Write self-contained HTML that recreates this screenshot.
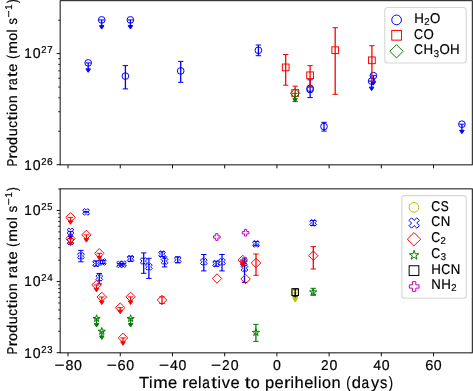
<!DOCTYPE html><html><head><meta charset="utf-8"><style>html,body{margin:0;padding:0;background:#fff;overflow:hidden}svg{display:block;will-change:transform}</style></head><body><svg text-rendering="geometricPrecision" width="473" height="391" viewBox="0 0 473 391">
<g>
<rect width="473" height="391" fill="#fff"/>
<defs><clipPath id="ct"><rect x="60.15" y="0.7" width="412.15000000000003" height="164.15"/></clipPath><clipPath id="cb"><rect x="60.15" y="188.85" width="412.15000000000003" height="164.00000000000003"/></clipPath></defs>
<g clip-path="url(#ct)"><line x1="88.20" y1="62.90" x2="88.20" y2="68.85" stroke="#0000ff" stroke-width="1.3"/><line x1="85.50" y1="62.90" x2="90.90" y2="62.90" stroke="#0000ff" stroke-width="1.0"/><path d="M85.90,68.85L88.20,72.30L90.50,68.85Z" fill="#0000ff" stroke="#0000ff" stroke-width="1.0" stroke-linejoin="miter"/><circle cx="88.20" cy="62.90" r="3.35" fill="none" stroke="#0000ff" stroke-width="1.0"/><line x1="101.70" y1="19.90" x2="101.70" y2="25.65" stroke="#0000ff" stroke-width="1.3"/><line x1="99.00" y1="19.90" x2="104.40" y2="19.90" stroke="#0000ff" stroke-width="1.0"/><path d="M99.40,25.65L101.70,29.10L104.00,25.65Z" fill="#0000ff" stroke="#0000ff" stroke-width="1.0" stroke-linejoin="miter"/><circle cx="101.70" cy="19.90" r="3.35" fill="none" stroke="#0000ff" stroke-width="1.0"/><line x1="130.40" y1="19.90" x2="130.40" y2="25.55" stroke="#0000ff" stroke-width="1.3"/><line x1="127.70" y1="19.90" x2="133.10" y2="19.90" stroke="#0000ff" stroke-width="1.0"/><path d="M128.10,25.55L130.40,29.00L132.70,25.55Z" fill="#0000ff" stroke="#0000ff" stroke-width="1.0" stroke-linejoin="miter"/><circle cx="130.40" cy="19.90" r="3.35" fill="none" stroke="#0000ff" stroke-width="1.0"/><line x1="125.40" y1="65.60" x2="125.40" y2="88.90" stroke="#0000ff" stroke-width="1.3"/><line x1="122.70" y1="65.60" x2="128.10" y2="65.60" stroke="#0000ff" stroke-width="1.0"/><line x1="122.70" y1="88.90" x2="128.10" y2="88.90" stroke="#0000ff" stroke-width="1.0"/><circle cx="125.40" cy="76.10" r="3.35" fill="none" stroke="#0000ff" stroke-width="1.0"/><line x1="180.70" y1="61.40" x2="180.70" y2="82.30" stroke="#0000ff" stroke-width="1.3"/><line x1="178.00" y1="61.40" x2="183.40" y2="61.40" stroke="#0000ff" stroke-width="1.0"/><line x1="178.00" y1="82.30" x2="183.40" y2="82.30" stroke="#0000ff" stroke-width="1.0"/><circle cx="180.70" cy="70.90" r="3.35" fill="none" stroke="#0000ff" stroke-width="1.0"/><line x1="258.40" y1="45.00" x2="258.40" y2="55.70" stroke="#0000ff" stroke-width="1.3"/><line x1="255.70" y1="45.00" x2="261.10" y2="45.00" stroke="#0000ff" stroke-width="1.0"/><line x1="255.70" y1="55.70" x2="261.10" y2="55.70" stroke="#0000ff" stroke-width="1.0"/><circle cx="258.40" cy="50.30" r="3.35" fill="none" stroke="#0000ff" stroke-width="1.0"/><line x1="310.10" y1="79.80" x2="310.10" y2="97.60" stroke="#0000ff" stroke-width="1.3"/><line x1="307.40" y1="79.80" x2="312.80" y2="79.80" stroke="#0000ff" stroke-width="1.0"/><line x1="307.40" y1="97.60" x2="312.80" y2="97.60" stroke="#0000ff" stroke-width="1.0"/><circle cx="310.10" cy="88.30" r="3.35" fill="none" stroke="#0000ff" stroke-width="1.0"/><circle cx="310.10" cy="89.60" r="3.35" fill="none" stroke="#0000ff" stroke-width="1.0"/><line x1="324.00" y1="122.30" x2="324.00" y2="131.10" stroke="#0000ff" stroke-width="1.3"/><line x1="321.30" y1="122.30" x2="326.70" y2="122.30" stroke="#0000ff" stroke-width="1.0"/><line x1="321.30" y1="131.10" x2="326.70" y2="131.10" stroke="#0000ff" stroke-width="1.0"/><circle cx="324.00" cy="126.50" r="3.35" fill="none" stroke="#0000ff" stroke-width="1.0"/><line x1="373.40" y1="75.70" x2="373.40" y2="81.65" stroke="#0000ff" stroke-width="1.3"/><line x1="370.70" y1="75.70" x2="376.10" y2="75.70" stroke="#0000ff" stroke-width="1.0"/><path d="M371.10,81.65L373.40,85.10L375.70,81.65Z" fill="#0000ff" stroke="#0000ff" stroke-width="1.0" stroke-linejoin="miter"/><circle cx="373.40" cy="75.70" r="3.35" fill="none" stroke="#0000ff" stroke-width="1.0"/><line x1="371.60" y1="81.10" x2="371.60" y2="87.15" stroke="#0000ff" stroke-width="1.3"/><line x1="368.90" y1="81.10" x2="374.30" y2="81.10" stroke="#0000ff" stroke-width="1.0"/><path d="M369.30,87.15L371.60,90.60L373.90,87.15Z" fill="#0000ff" stroke="#0000ff" stroke-width="1.0" stroke-linejoin="miter"/><circle cx="371.60" cy="81.10" r="3.35" fill="none" stroke="#0000ff" stroke-width="1.0"/><line x1="461.90" y1="124.20" x2="461.90" y2="130.25" stroke="#0000ff" stroke-width="1.3"/><line x1="459.20" y1="124.20" x2="464.60" y2="124.20" stroke="#0000ff" stroke-width="1.0"/><path d="M459.60,130.25L461.90,133.70L464.20,130.25Z" fill="#0000ff" stroke="#0000ff" stroke-width="1.0" stroke-linejoin="miter"/><circle cx="461.90" cy="124.20" r="3.35" fill="none" stroke="#0000ff" stroke-width="1.0"/><line x1="285.70" y1="54.50" x2="285.70" y2="85.20" stroke="#ff0000" stroke-width="1.3"/><line x1="283.00" y1="54.50" x2="288.40" y2="54.50" stroke="#ff0000" stroke-width="1.0"/><line x1="283.00" y1="85.20" x2="288.40" y2="85.20" stroke="#ff0000" stroke-width="1.0"/><rect x="282.35" y="64.05" width="6.70" height="6.70" fill="none" stroke="#ff0000" stroke-width="1.0"/><line x1="295.20" y1="86.20" x2="295.20" y2="101.60" stroke="#ff0000" stroke-width="1.3"/><line x1="292.50" y1="86.20" x2="297.90" y2="86.20" stroke="#ff0000" stroke-width="1.0"/><line x1="292.50" y1="101.60" x2="297.90" y2="101.60" stroke="#ff0000" stroke-width="1.0"/><rect x="291.85" y="89.65" width="6.70" height="6.70" fill="none" stroke="#ff0000" stroke-width="1.0"/><line x1="310.10" y1="65.60" x2="310.10" y2="87.20" stroke="#ff0000" stroke-width="1.3"/><line x1="307.40" y1="65.60" x2="312.80" y2="65.60" stroke="#ff0000" stroke-width="1.0"/><line x1="307.40" y1="87.20" x2="312.80" y2="87.20" stroke="#ff0000" stroke-width="1.0"/><rect x="306.75" y="71.95" width="6.70" height="6.70" fill="none" stroke="#ff0000" stroke-width="1.0"/><line x1="335.20" y1="27.70" x2="335.20" y2="94.30" stroke="#ff0000" stroke-width="1.3"/><line x1="332.50" y1="27.70" x2="337.90" y2="27.70" stroke="#ff0000" stroke-width="1.0"/><line x1="332.50" y1="94.30" x2="337.90" y2="94.30" stroke="#ff0000" stroke-width="1.0"/><rect x="331.85" y="46.85" width="6.70" height="6.70" fill="none" stroke="#ff0000" stroke-width="1.0"/><line x1="371.90" y1="45.70" x2="371.90" y2="81.30" stroke="#ff0000" stroke-width="1.3"/><line x1="369.20" y1="45.70" x2="374.60" y2="45.70" stroke="#ff0000" stroke-width="1.0"/><line x1="369.20" y1="81.30" x2="374.60" y2="81.30" stroke="#ff0000" stroke-width="1.0"/><rect x="368.55" y="56.95" width="6.70" height="6.70" fill="none" stroke="#ff0000" stroke-width="1.0"/><line x1="295.10" y1="93.30" x2="295.10" y2="98.65" stroke="#008000" stroke-width="1.3"/><line x1="292.40" y1="93.30" x2="297.80" y2="93.30" stroke="#008000" stroke-width="1.0"/><path d="M292.80,98.65L295.10,102.10L297.40,98.65Z" fill="#008000" stroke="#008000" stroke-width="1.0" stroke-linejoin="miter"/><path d="M295.10,88.56L299.84,93.30L295.10,98.04L290.36,93.30Z" fill="none" stroke="#008000" stroke-width="1.0" stroke-linejoin="miter"/></g>
<g clip-path="url(#cb)"><line x1="295.20" y1="292.90" x2="295.20" y2="298.45" stroke="#bfbf00" stroke-width="1.3"/><line x1="292.50" y1="292.90" x2="297.90" y2="292.90" stroke="#bfbf00" stroke-width="1.0"/><path d="M292.90,298.45L295.20,301.90L297.50,298.45Z" fill="#bfbf00" stroke="#bfbf00" stroke-width="1.0" stroke-linejoin="miter"/><circle cx="295.20" cy="292.90" r="3.35" fill="none" stroke="#bfbf00" stroke-width="1.0"/><line x1="70.50" y1="231.40" x2="70.50" y2="235.75" stroke="#0000ff" stroke-width="1.3"/><line x1="67.80" y1="231.40" x2="73.20" y2="231.40" stroke="#0000ff" stroke-width="1.0"/><path d="M68.20,235.75L70.50,239.20L72.80,235.75Z" fill="#0000ff" stroke="#0000ff" stroke-width="1.0" stroke-linejoin="miter"/><path d="M68.83,228.05L70.50,229.72L72.17,228.05L73.85,229.72L72.17,231.40L73.85,233.08L72.17,234.75L70.50,233.08L68.83,234.75L67.15,233.08L68.83,231.40L67.15,229.72Z" fill="none" stroke="#0000ff" stroke-width="1.0" stroke-linejoin="miter"/><path d="M68.83,238.15L70.50,239.82L72.17,238.15L73.85,239.82L72.17,241.50L73.85,243.18L72.17,244.85L70.50,243.18L68.83,244.85L67.15,243.18L68.83,241.50L67.15,239.82Z" fill="none" stroke="#0000ff" stroke-width="1.0" stroke-linejoin="miter"/><line x1="86.10" y1="211.60" x2="86.10" y2="212.20" stroke="#0000ff" stroke-width="1.3"/><line x1="83.40" y1="211.60" x2="88.80" y2="211.60" stroke="#0000ff" stroke-width="1.0"/><line x1="83.40" y1="212.20" x2="88.80" y2="212.20" stroke="#0000ff" stroke-width="1.0"/><path d="M84.42,208.55L86.10,210.22L87.77,208.55L89.45,210.22L87.77,211.90L89.45,213.58L87.77,215.25L86.10,213.58L84.42,215.25L82.75,213.58L84.42,211.90L82.75,210.22Z" fill="none" stroke="#0000ff" stroke-width="1.0" stroke-linejoin="miter"/><line x1="80.90" y1="250.40" x2="80.90" y2="261.80" stroke="#0000ff" stroke-width="1.3"/><line x1="78.20" y1="250.40" x2="83.60" y2="250.40" stroke="#0000ff" stroke-width="1.0"/><line x1="78.20" y1="261.80" x2="83.60" y2="261.80" stroke="#0000ff" stroke-width="1.0"/><path d="M79.23,252.55L80.90,254.22L82.58,252.55L84.25,254.22L82.58,255.90L84.25,257.57L82.58,259.25L80.90,257.57L79.23,259.25L77.55,257.57L79.23,255.90L77.55,254.22Z" fill="none" stroke="#0000ff" stroke-width="1.0" stroke-linejoin="miter"/><line x1="96.10" y1="261.00" x2="96.10" y2="266.00" stroke="#0000ff" stroke-width="1.3"/><line x1="93.40" y1="261.00" x2="98.80" y2="261.00" stroke="#0000ff" stroke-width="1.0"/><line x1="93.40" y1="266.00" x2="98.80" y2="266.00" stroke="#0000ff" stroke-width="1.0"/><path d="M94.42,260.15L96.10,261.82L97.77,260.15L99.45,261.82L97.77,263.50L99.45,265.18L97.77,266.85L96.10,265.18L94.42,266.85L92.75,265.18L94.42,263.50L92.75,261.82Z" fill="none" stroke="#0000ff" stroke-width="1.0" stroke-linejoin="miter"/><line x1="102.70" y1="260.50" x2="102.70" y2="263.50" stroke="#0000ff" stroke-width="1.3"/><line x1="100.00" y1="260.50" x2="105.40" y2="260.50" stroke="#0000ff" stroke-width="1.0"/><line x1="100.00" y1="263.50" x2="105.40" y2="263.50" stroke="#0000ff" stroke-width="1.0"/><path d="M101.03,258.65L102.70,260.32L104.38,258.65L106.05,260.32L104.38,262.00L106.05,263.68L104.38,265.35L102.70,263.68L101.03,265.35L99.35,263.68L101.03,262.00L99.35,260.32Z" fill="none" stroke="#0000ff" stroke-width="1.0" stroke-linejoin="miter"/><line x1="99.30" y1="273.50" x2="99.30" y2="283.90" stroke="#0000ff" stroke-width="1.3"/><line x1="96.60" y1="273.50" x2="102.00" y2="273.50" stroke="#0000ff" stroke-width="1.0"/><line x1="96.60" y1="283.90" x2="102.00" y2="283.90" stroke="#0000ff" stroke-width="1.0"/><path d="M97.62,274.45L99.30,276.12L100.97,274.45L102.65,276.12L100.97,277.80L102.65,279.48L100.97,281.15L99.30,279.48L97.62,281.15L95.95,279.48L97.62,277.80L95.95,276.12Z" fill="none" stroke="#0000ff" stroke-width="1.0" stroke-linejoin="miter"/><line x1="120.00" y1="263.60" x2="120.00" y2="265.20" stroke="#0000ff" stroke-width="1.3"/><line x1="117.30" y1="263.60" x2="122.70" y2="263.60" stroke="#0000ff" stroke-width="1.0"/><line x1="117.30" y1="265.20" x2="122.70" y2="265.20" stroke="#0000ff" stroke-width="1.0"/><path d="M118.33,261.05L120.00,262.72L121.67,261.05L123.35,262.72L121.67,264.40L123.35,266.07L121.67,267.75L120.00,266.07L118.33,267.75L116.65,266.07L118.33,264.40L116.65,262.72Z" fill="none" stroke="#0000ff" stroke-width="1.0" stroke-linejoin="miter"/><line x1="123.00" y1="263.40" x2="123.00" y2="265.00" stroke="#0000ff" stroke-width="1.3"/><line x1="120.30" y1="263.40" x2="125.70" y2="263.40" stroke="#0000ff" stroke-width="1.0"/><line x1="120.30" y1="265.00" x2="125.70" y2="265.00" stroke="#0000ff" stroke-width="1.0"/><path d="M121.33,260.85L123.00,262.52L124.67,260.85L126.35,262.52L124.67,264.20L126.35,265.88L124.67,267.55L123.00,265.88L121.33,267.55L119.65,265.88L121.33,264.20L119.65,262.52Z" fill="none" stroke="#0000ff" stroke-width="1.0" stroke-linejoin="miter"/><line x1="130.60" y1="256.20" x2="130.60" y2="261.20" stroke="#0000ff" stroke-width="1.3"/><line x1="127.90" y1="256.20" x2="133.30" y2="256.20" stroke="#0000ff" stroke-width="1.0"/><line x1="127.90" y1="261.20" x2="133.30" y2="261.20" stroke="#0000ff" stroke-width="1.0"/><path d="M128.92,255.35L130.60,257.02L132.28,255.35L133.95,257.02L132.28,258.70L133.95,260.38L132.28,262.05L130.60,260.38L128.92,262.05L127.25,260.38L128.92,258.70L127.25,257.02Z" fill="none" stroke="#0000ff" stroke-width="1.0" stroke-linejoin="miter"/><line x1="143.70" y1="252.90" x2="143.70" y2="273.30" stroke="#0000ff" stroke-width="1.3"/><line x1="141.00" y1="252.90" x2="146.40" y2="252.90" stroke="#0000ff" stroke-width="1.0"/><line x1="141.00" y1="273.30" x2="146.40" y2="273.30" stroke="#0000ff" stroke-width="1.0"/><path d="M142.02,257.65L143.70,259.32L145.38,257.65L147.05,259.32L145.38,261.00L147.05,262.68L145.38,264.35L143.70,262.68L142.02,264.35L140.35,262.68L142.02,261.00L140.35,259.32Z" fill="none" stroke="#0000ff" stroke-width="1.0" stroke-linejoin="miter"/><line x1="148.90" y1="258.30" x2="148.90" y2="278.40" stroke="#0000ff" stroke-width="1.3"/><line x1="146.20" y1="258.30" x2="151.60" y2="258.30" stroke="#0000ff" stroke-width="1.0"/><line x1="146.20" y1="278.40" x2="151.60" y2="278.40" stroke="#0000ff" stroke-width="1.0"/><path d="M147.22,263.45L148.90,265.12L150.58,263.45L152.25,265.12L150.58,266.80L152.25,268.48L150.58,270.15L148.90,268.48L147.22,270.15L145.55,268.48L147.22,266.80L145.55,265.12Z" fill="none" stroke="#0000ff" stroke-width="1.0" stroke-linejoin="miter"/><line x1="162.10" y1="251.80" x2="162.10" y2="256.40" stroke="#0000ff" stroke-width="1.3"/><line x1="159.40" y1="251.80" x2="164.80" y2="251.80" stroke="#0000ff" stroke-width="1.0"/><line x1="159.40" y1="256.40" x2="164.80" y2="256.40" stroke="#0000ff" stroke-width="1.0"/><path d="M160.42,250.75L162.10,252.42L163.78,250.75L165.45,252.42L163.78,254.10L165.45,255.78L163.78,257.45L162.10,255.78L160.42,257.45L158.75,255.78L160.42,254.10L158.75,252.42Z" fill="none" stroke="#0000ff" stroke-width="1.0" stroke-linejoin="miter"/><line x1="164.60" y1="256.90" x2="164.60" y2="266.90" stroke="#0000ff" stroke-width="1.3"/><line x1="161.90" y1="256.90" x2="167.30" y2="256.90" stroke="#0000ff" stroke-width="1.0"/><line x1="161.90" y1="266.90" x2="167.30" y2="266.90" stroke="#0000ff" stroke-width="1.0"/><path d="M162.92,257.75L164.60,259.43L166.28,257.75L167.95,259.43L166.28,261.10L167.95,262.78L166.28,264.45L164.60,262.78L162.92,264.45L161.25,262.78L162.92,261.10L161.25,259.43Z" fill="none" stroke="#0000ff" stroke-width="1.0" stroke-linejoin="miter"/><line x1="177.70" y1="256.80" x2="177.70" y2="262.80" stroke="#0000ff" stroke-width="1.3"/><line x1="175.00" y1="256.80" x2="180.40" y2="256.80" stroke="#0000ff" stroke-width="1.0"/><line x1="175.00" y1="262.80" x2="180.40" y2="262.80" stroke="#0000ff" stroke-width="1.0"/><path d="M176.02,256.45L177.70,258.12L179.38,256.45L181.05,258.12L179.38,259.80L181.05,261.48L179.38,263.15L177.70,261.48L176.02,263.15L174.35,261.48L176.02,259.80L174.35,258.12Z" fill="none" stroke="#0000ff" stroke-width="1.0" stroke-linejoin="miter"/><line x1="203.80" y1="254.50" x2="203.80" y2="270.90" stroke="#0000ff" stroke-width="1.3"/><line x1="201.10" y1="254.50" x2="206.50" y2="254.50" stroke="#0000ff" stroke-width="1.0"/><line x1="201.10" y1="270.90" x2="206.50" y2="270.90" stroke="#0000ff" stroke-width="1.0"/><path d="M202.12,258.45L203.80,260.12L205.48,258.45L207.15,260.12L205.48,261.80L207.15,263.48L205.48,265.15L203.80,263.48L202.12,265.15L200.45,263.48L202.12,261.80L200.45,260.12Z" fill="none" stroke="#0000ff" stroke-width="1.0" stroke-linejoin="miter"/><line x1="216.10" y1="261.20" x2="216.10" y2="266.20" stroke="#0000ff" stroke-width="1.3"/><line x1="213.40" y1="261.20" x2="218.80" y2="261.20" stroke="#0000ff" stroke-width="1.0"/><line x1="213.40" y1="266.20" x2="218.80" y2="266.20" stroke="#0000ff" stroke-width="1.0"/><path d="M214.42,260.35L216.10,262.02L217.78,260.35L219.45,262.02L217.78,263.70L219.45,265.38L217.78,267.05L216.10,265.38L214.42,267.05L212.75,265.38L214.42,263.70L212.75,262.02Z" fill="none" stroke="#0000ff" stroke-width="1.0" stroke-linejoin="miter"/><line x1="222.00" y1="254.50" x2="222.00" y2="270.90" stroke="#0000ff" stroke-width="1.3"/><line x1="219.30" y1="254.50" x2="224.70" y2="254.50" stroke="#0000ff" stroke-width="1.0"/><line x1="219.30" y1="270.90" x2="224.70" y2="270.90" stroke="#0000ff" stroke-width="1.0"/><path d="M220.32,258.45L222.00,260.12L223.68,258.45L225.35,260.12L223.68,261.80L225.35,263.48L223.68,265.15L222.00,263.48L220.32,265.15L218.65,263.48L220.32,261.80L218.65,260.12Z" fill="none" stroke="#0000ff" stroke-width="1.0" stroke-linejoin="miter"/><line x1="243.80" y1="262.00" x2="243.80" y2="263.60" stroke="#0000ff" stroke-width="1.3"/><line x1="241.10" y1="262.00" x2="246.50" y2="262.00" stroke="#0000ff" stroke-width="1.0"/><line x1="241.10" y1="263.60" x2="246.50" y2="263.60" stroke="#0000ff" stroke-width="1.0"/><path d="M242.12,259.45L243.80,261.12L245.48,259.45L247.15,261.12L245.48,262.80L247.15,264.48L245.48,266.15L243.80,264.48L242.12,266.15L240.45,264.48L242.12,262.80L240.45,261.12Z" fill="none" stroke="#0000ff" stroke-width="1.0" stroke-linejoin="miter"/><line x1="244.50" y1="258.00" x2="244.50" y2="282.40" stroke="#0000ff" stroke-width="1.3"/><line x1="241.80" y1="258.00" x2="247.20" y2="258.00" stroke="#0000ff" stroke-width="1.0"/><line x1="241.80" y1="282.40" x2="247.20" y2="282.40" stroke="#0000ff" stroke-width="1.0"/><path d="M242.82,264.95L244.50,266.62L246.18,264.95L247.85,266.62L246.18,268.30L247.85,269.98L246.18,271.65L244.50,269.98L242.82,271.65L241.15,269.98L242.82,268.30L241.15,266.62Z" fill="none" stroke="#0000ff" stroke-width="1.0" stroke-linejoin="miter"/><line x1="256.00" y1="241.40" x2="256.00" y2="245.40" stroke="#0000ff" stroke-width="1.3"/><line x1="253.30" y1="241.40" x2="258.70" y2="241.40" stroke="#0000ff" stroke-width="1.0"/><line x1="253.30" y1="245.40" x2="258.70" y2="245.40" stroke="#0000ff" stroke-width="1.0"/><path d="M254.32,240.55L256.00,242.22L257.68,240.55L259.35,242.22L257.68,243.90L259.35,245.58L257.68,247.25L256.00,245.58L254.32,247.25L252.65,245.58L254.32,243.90L252.65,242.22Z" fill="none" stroke="#0000ff" stroke-width="1.0" stroke-linejoin="miter"/><line x1="313.20" y1="220.40" x2="313.20" y2="225.40" stroke="#0000ff" stroke-width="1.3"/><line x1="310.50" y1="220.40" x2="315.90" y2="220.40" stroke="#0000ff" stroke-width="1.0"/><line x1="310.50" y1="225.40" x2="315.90" y2="225.40" stroke="#0000ff" stroke-width="1.0"/><path d="M311.52,219.55L313.20,221.22L314.88,219.55L316.55,221.22L314.88,222.90L316.55,224.58L314.88,226.25L313.20,224.58L311.52,226.25L309.85,224.58L311.52,222.90L309.85,221.22Z" fill="none" stroke="#0000ff" stroke-width="1.0" stroke-linejoin="miter"/><line x1="70.50" y1="217.40" x2="70.50" y2="220.85" stroke="#ff0000" stroke-width="1.3"/><line x1="67.80" y1="217.40" x2="73.20" y2="217.40" stroke="#ff0000" stroke-width="1.0"/><path d="M68.20,220.85L70.50,224.30L72.80,220.85Z" fill="#ff0000" stroke="#ff0000" stroke-width="1.0" stroke-linejoin="miter"/><path d="M70.50,212.66L75.24,217.40L70.50,222.14L65.76,217.40Z" fill="none" stroke="#ff0000" stroke-width="1.0" stroke-linejoin="miter"/><line x1="70.50" y1="238.60" x2="70.50" y2="242.25" stroke="#ff0000" stroke-width="1.3"/><line x1="67.80" y1="238.60" x2="73.20" y2="238.60" stroke="#ff0000" stroke-width="1.0"/><path d="M68.20,242.25L70.50,245.70L72.80,242.25Z" fill="#ff0000" stroke="#ff0000" stroke-width="1.0" stroke-linejoin="miter"/><path d="M70.50,233.86L75.24,238.60L70.50,243.34L65.76,238.60Z" fill="none" stroke="#ff0000" stroke-width="1.0" stroke-linejoin="miter"/><line x1="86.40" y1="234.90" x2="86.40" y2="238.65" stroke="#ff0000" stroke-width="1.3"/><line x1="83.70" y1="234.90" x2="89.10" y2="234.90" stroke="#ff0000" stroke-width="1.0"/><path d="M84.10,238.65L86.40,242.10L88.70,238.65Z" fill="#ff0000" stroke="#ff0000" stroke-width="1.0" stroke-linejoin="miter"/><path d="M86.40,230.16L91.14,234.90L86.40,239.64L81.66,234.90Z" fill="none" stroke="#ff0000" stroke-width="1.0" stroke-linejoin="miter"/><line x1="99.30" y1="253.30" x2="99.30" y2="256.45" stroke="#ff0000" stroke-width="1.3"/><line x1="96.60" y1="253.30" x2="102.00" y2="253.30" stroke="#ff0000" stroke-width="1.0"/><path d="M97.00,256.45L99.30,259.90L101.60,256.45Z" fill="#ff0000" stroke="#ff0000" stroke-width="1.0" stroke-linejoin="miter"/><path d="M99.30,248.56L104.04,253.30L99.30,258.04L94.56,253.30Z" fill="none" stroke="#ff0000" stroke-width="1.0" stroke-linejoin="miter"/><line x1="96.50" y1="285.00" x2="96.50" y2="288.35" stroke="#ff0000" stroke-width="1.3"/><line x1="93.80" y1="285.00" x2="99.20" y2="285.00" stroke="#ff0000" stroke-width="1.0"/><path d="M94.20,288.35L96.50,291.80L98.80,288.35Z" fill="#ff0000" stroke="#ff0000" stroke-width="1.0" stroke-linejoin="miter"/><path d="M96.50,280.26L101.24,285.00L96.50,289.74L91.76,285.00Z" fill="none" stroke="#ff0000" stroke-width="1.0" stroke-linejoin="miter"/><line x1="101.80" y1="297.00" x2="101.80" y2="301.05" stroke="#ff0000" stroke-width="1.3"/><line x1="99.10" y1="297.00" x2="104.50" y2="297.00" stroke="#ff0000" stroke-width="1.0"/><path d="M99.50,301.05L101.80,304.50L104.10,301.05Z" fill="#ff0000" stroke="#ff0000" stroke-width="1.0" stroke-linejoin="miter"/><path d="M101.80,292.26L106.54,297.00L101.80,301.74L97.06,297.00Z" fill="none" stroke="#ff0000" stroke-width="1.0" stroke-linejoin="miter"/><line x1="130.60" y1="296.90" x2="130.60" y2="301.05" stroke="#ff0000" stroke-width="1.3"/><line x1="127.90" y1="296.90" x2="133.30" y2="296.90" stroke="#ff0000" stroke-width="1.0"/><path d="M128.30,301.05L130.60,304.50L132.90,301.05Z" fill="#ff0000" stroke="#ff0000" stroke-width="1.0" stroke-linejoin="miter"/><path d="M130.60,292.16L135.34,296.90L130.60,301.64L125.86,296.90Z" fill="none" stroke="#ff0000" stroke-width="1.0" stroke-linejoin="miter"/><line x1="120.20" y1="307.60" x2="120.20" y2="310.25" stroke="#ff0000" stroke-width="1.3"/><line x1="117.50" y1="307.60" x2="122.90" y2="307.60" stroke="#ff0000" stroke-width="1.0"/><path d="M117.90,310.25L120.20,313.70L122.50,310.25Z" fill="#ff0000" stroke="#ff0000" stroke-width="1.0" stroke-linejoin="miter"/><path d="M120.20,302.86L124.94,307.60L120.20,312.34L115.46,307.60Z" fill="none" stroke="#ff0000" stroke-width="1.0" stroke-linejoin="miter"/><line x1="123.00" y1="337.90" x2="123.00" y2="341.75" stroke="#ff0000" stroke-width="1.3"/><line x1="120.30" y1="337.90" x2="125.70" y2="337.90" stroke="#ff0000" stroke-width="1.0"/><path d="M120.70,341.75L123.00,345.20L125.30,341.75Z" fill="#ff0000" stroke="#ff0000" stroke-width="1.0" stroke-linejoin="miter"/><path d="M123.00,333.16L127.74,337.90L123.00,342.64L118.26,337.90Z" fill="none" stroke="#ff0000" stroke-width="1.0" stroke-linejoin="miter"/><line x1="162.00" y1="296.80" x2="162.00" y2="303.50" stroke="#ff0000" stroke-width="1.3"/><line x1="159.30" y1="296.80" x2="164.70" y2="296.80" stroke="#ff0000" stroke-width="1.0"/><line x1="159.30" y1="303.50" x2="164.70" y2="303.50" stroke="#ff0000" stroke-width="1.0"/><path d="M162.00,295.26L166.74,300.00L162.00,304.74L157.26,300.00Z" fill="none" stroke="#ff0000" stroke-width="1.0" stroke-linejoin="miter"/><path d="M217.00,273.76L221.74,278.50L217.00,283.24L212.26,278.50Z" fill="none" stroke="#ff0000" stroke-width="1.0" stroke-linejoin="miter"/><line x1="242.80" y1="260.00" x2="242.80" y2="263.55" stroke="#ff0000" stroke-width="1.3"/><line x1="240.10" y1="260.00" x2="245.50" y2="260.00" stroke="#ff0000" stroke-width="1.0"/><path d="M240.50,263.55L242.80,267.00L245.10,263.55Z" fill="#ff0000" stroke="#ff0000" stroke-width="1.0" stroke-linejoin="miter"/><path d="M242.80,255.26L247.54,260.00L242.80,264.74L238.06,260.00Z" fill="none" stroke="#ff0000" stroke-width="1.0" stroke-linejoin="miter"/><path d="M245.60,274.26L250.34,279.00L245.60,283.74L240.86,279.00Z" fill="none" stroke="#ff0000" stroke-width="1.0" stroke-linejoin="miter"/><line x1="256.00" y1="254.00" x2="256.00" y2="275.30" stroke="#ff0000" stroke-width="1.3"/><line x1="253.30" y1="254.00" x2="258.70" y2="254.00" stroke="#ff0000" stroke-width="1.0"/><line x1="253.30" y1="275.30" x2="258.70" y2="275.30" stroke="#ff0000" stroke-width="1.0"/><path d="M256.00,258.26L260.74,263.00L256.00,267.74L251.26,263.00Z" fill="none" stroke="#ff0000" stroke-width="1.0" stroke-linejoin="miter"/><line x1="313.30" y1="246.60" x2="313.30" y2="269.00" stroke="#ff0000" stroke-width="1.3"/><line x1="310.60" y1="246.60" x2="316.00" y2="246.60" stroke="#ff0000" stroke-width="1.0"/><line x1="310.60" y1="269.00" x2="316.00" y2="269.00" stroke="#ff0000" stroke-width="1.0"/><path d="M313.30,250.96L318.04,255.70L313.30,260.44L308.56,255.70Z" fill="none" stroke="#ff0000" stroke-width="1.0" stroke-linejoin="miter"/><line x1="96.60" y1="318.60" x2="96.60" y2="323.55" stroke="#008000" stroke-width="1.3"/><line x1="93.90" y1="318.60" x2="99.30" y2="318.60" stroke="#008000" stroke-width="1.0"/><path d="M94.30,323.55L96.60,327.00L98.90,323.55Z" fill="#008000" stroke="#008000" stroke-width="1.0" stroke-linejoin="miter"/><path d="M96.60,314.80L95.75,317.43L92.99,317.43L95.22,319.05L94.37,321.67L96.60,320.05L98.83,321.67L97.98,319.05L100.21,317.43L97.45,317.43Z" fill="none" stroke="#008000" stroke-width="1.0" stroke-linejoin="bevel"/><line x1="130.60" y1="318.60" x2="130.60" y2="323.55" stroke="#008000" stroke-width="1.3"/><line x1="127.90" y1="318.60" x2="133.30" y2="318.60" stroke="#008000" stroke-width="1.0"/><path d="M128.30,323.55L130.60,327.00L132.90,323.55Z" fill="#008000" stroke="#008000" stroke-width="1.0" stroke-linejoin="miter"/><path d="M130.60,314.80L129.75,317.43L126.99,317.43L129.22,319.05L128.37,321.67L130.60,320.05L132.83,321.67L131.98,319.05L134.21,317.43L131.45,317.43Z" fill="none" stroke="#008000" stroke-width="1.0" stroke-linejoin="bevel"/><line x1="101.80" y1="331.30" x2="101.80" y2="335.95" stroke="#008000" stroke-width="1.3"/><line x1="99.10" y1="331.30" x2="104.50" y2="331.30" stroke="#008000" stroke-width="1.0"/><path d="M99.50,335.95L101.80,339.40L104.10,335.95Z" fill="#008000" stroke="#008000" stroke-width="1.0" stroke-linejoin="miter"/><path d="M101.80,327.50L100.95,330.13L98.19,330.13L100.42,331.75L99.57,334.37L101.80,332.75L104.03,334.37L103.18,331.75L105.41,330.13L102.65,330.13Z" fill="none" stroke="#008000" stroke-width="1.0" stroke-linejoin="bevel"/><line x1="313.20" y1="288.30" x2="313.20" y2="295.30" stroke="#008000" stroke-width="1.3"/><line x1="310.50" y1="288.30" x2="315.90" y2="288.30" stroke="#008000" stroke-width="1.0"/><line x1="310.50" y1="295.30" x2="315.90" y2="295.30" stroke="#008000" stroke-width="1.0"/><path d="M313.20,288.30L312.35,290.93L309.59,290.93L311.82,292.55L310.97,295.17L313.20,293.55L315.43,295.17L314.58,292.55L316.81,290.93L314.05,290.93Z" fill="none" stroke="#008000" stroke-width="1.0" stroke-linejoin="bevel"/><line x1="255.90" y1="324.40" x2="255.90" y2="341.40" stroke="#008000" stroke-width="1.3"/><line x1="253.20" y1="324.40" x2="258.60" y2="324.40" stroke="#008000" stroke-width="1.0"/><line x1="253.20" y1="341.40" x2="258.60" y2="341.40" stroke="#008000" stroke-width="1.0"/><path d="M255.90,328.70L255.05,331.33L252.29,331.33L254.52,332.95L253.67,335.57L255.90,333.95L258.13,335.57L257.28,332.95L259.51,331.33L256.75,331.33Z" fill="none" stroke="#008000" stroke-width="1.0" stroke-linejoin="bevel"/><line x1="295.20" y1="288.90" x2="295.20" y2="296.80" stroke="#000000" stroke-width="1.3"/><line x1="292.50" y1="288.90" x2="297.90" y2="288.90" stroke="#000000" stroke-width="1.0"/><line x1="292.50" y1="296.80" x2="297.90" y2="296.80" stroke="#000000" stroke-width="1.0"/><rect x="291.85" y="288.75" width="6.70" height="6.70" fill="none" stroke="#000000" stroke-width="1.0"/><path d="M215.68,233.65L217.92,233.65L217.92,235.88L220.15,235.88L220.15,238.12L217.92,238.12L217.92,240.35L215.68,240.35L215.68,238.12L213.45,238.12L213.45,235.88L215.68,235.88Z" fill="none" stroke="#bf00bf" stroke-width="1.0" stroke-linejoin="miter"/><path d="M244.48,229.35L246.72,229.35L246.72,231.58L248.95,231.58L248.95,233.82L246.72,233.82L246.72,236.05L244.48,236.05L244.48,233.82L242.25,233.82L242.25,231.58L244.48,231.58Z" fill="none" stroke="#bf00bf" stroke-width="1.0" stroke-linejoin="miter"/></g>
<rect x="60.15" y="0.7" width="412.15000000000003" height="164.15" fill="none" stroke="#000" stroke-width="0.95"/>
<rect x="60.15" y="188.85" width="412.15000000000003" height="164.00000000000003" fill="none" stroke="#000" stroke-width="0.95"/>
<line x1="68.04" y1="164.85" x2="68.04" y2="168.35" stroke="#000" stroke-width="0.95"/><line x1="68.04" y1="352.85" x2="68.04" y2="356.35" stroke="#000" stroke-width="0.95"/><line x1="120.26" y1="164.85" x2="120.26" y2="168.35" stroke="#000" stroke-width="0.95"/><line x1="120.26" y1="352.85" x2="120.26" y2="356.35" stroke="#000" stroke-width="0.95"/><line x1="172.47" y1="164.85" x2="172.47" y2="168.35" stroke="#000" stroke-width="0.95"/><line x1="172.47" y1="352.85" x2="172.47" y2="356.35" stroke="#000" stroke-width="0.95"/><line x1="224.69" y1="164.85" x2="224.69" y2="168.35" stroke="#000" stroke-width="0.95"/><line x1="224.69" y1="352.85" x2="224.69" y2="356.35" stroke="#000" stroke-width="0.95"/><line x1="276.90" y1="164.85" x2="276.90" y2="168.35" stroke="#000" stroke-width="0.95"/><line x1="276.90" y1="352.85" x2="276.90" y2="356.35" stroke="#000" stroke-width="0.95"/><line x1="329.11" y1="164.85" x2="329.11" y2="168.35" stroke="#000" stroke-width="0.95"/><line x1="329.11" y1="352.85" x2="329.11" y2="356.35" stroke="#000" stroke-width="0.95"/><line x1="381.33" y1="164.85" x2="381.33" y2="168.35" stroke="#000" stroke-width="0.95"/><line x1="381.33" y1="352.85" x2="381.33" y2="356.35" stroke="#000" stroke-width="0.95"/><line x1="433.54" y1="164.85" x2="433.54" y2="168.35" stroke="#000" stroke-width="0.95"/><line x1="433.54" y1="352.85" x2="433.54" y2="356.35" stroke="#000" stroke-width="0.95"/><line x1="56.65" y1="164.72" x2="60.15" y2="164.72" stroke="#000" stroke-width="0.95"/><line x1="58.15" y1="131.28" x2="60.15" y2="131.28" stroke="#000" stroke-width="0.8"/><line x1="58.15" y1="111.71" x2="60.15" y2="111.71" stroke="#000" stroke-width="0.8"/><line x1="58.15" y1="97.83" x2="60.15" y2="97.83" stroke="#000" stroke-width="0.8"/><line x1="58.15" y1="87.06" x2="60.15" y2="87.06" stroke="#000" stroke-width="0.8"/><line x1="58.15" y1="78.27" x2="60.15" y2="78.27" stroke="#000" stroke-width="0.8"/><line x1="58.15" y1="70.83" x2="60.15" y2="70.83" stroke="#000" stroke-width="0.8"/><line x1="58.15" y1="64.39" x2="60.15" y2="64.39" stroke="#000" stroke-width="0.8"/><line x1="58.15" y1="58.70" x2="60.15" y2="58.70" stroke="#000" stroke-width="0.8"/><line x1="56.65" y1="53.62" x2="60.15" y2="53.62" stroke="#000" stroke-width="0.95"/><line x1="58.15" y1="20.18" x2="60.15" y2="20.18" stroke="#000" stroke-width="0.8"/><line x1="56.65" y1="352.70" x2="60.15" y2="352.70" stroke="#000" stroke-width="0.95"/><line x1="58.15" y1="331.29" x2="60.15" y2="331.29" stroke="#000" stroke-width="0.8"/><line x1="58.15" y1="318.77" x2="60.15" y2="318.77" stroke="#000" stroke-width="0.8"/><line x1="58.15" y1="309.88" x2="60.15" y2="309.88" stroke="#000" stroke-width="0.8"/><line x1="58.15" y1="302.99" x2="60.15" y2="302.99" stroke="#000" stroke-width="0.8"/><line x1="58.15" y1="297.36" x2="60.15" y2="297.36" stroke="#000" stroke-width="0.8"/><line x1="58.15" y1="292.60" x2="60.15" y2="292.60" stroke="#000" stroke-width="0.8"/><line x1="58.15" y1="288.47" x2="60.15" y2="288.47" stroke="#000" stroke-width="0.8"/><line x1="58.15" y1="284.83" x2="60.15" y2="284.83" stroke="#000" stroke-width="0.8"/><line x1="56.65" y1="281.58" x2="60.15" y2="281.58" stroke="#000" stroke-width="0.95"/><line x1="58.15" y1="260.17" x2="60.15" y2="260.17" stroke="#000" stroke-width="0.8"/><line x1="58.15" y1="247.65" x2="60.15" y2="247.65" stroke="#000" stroke-width="0.8"/><line x1="58.15" y1="238.76" x2="60.15" y2="238.76" stroke="#000" stroke-width="0.8"/><line x1="58.15" y1="231.87" x2="60.15" y2="231.87" stroke="#000" stroke-width="0.8"/><line x1="58.15" y1="226.24" x2="60.15" y2="226.24" stroke="#000" stroke-width="0.8"/><line x1="58.15" y1="221.48" x2="60.15" y2="221.48" stroke="#000" stroke-width="0.8"/><line x1="58.15" y1="217.35" x2="60.15" y2="217.35" stroke="#000" stroke-width="0.8"/><line x1="58.15" y1="213.71" x2="60.15" y2="213.71" stroke="#000" stroke-width="0.8"/><line x1="56.65" y1="210.46" x2="60.15" y2="210.46" stroke="#000" stroke-width="0.95"/><line x1="58.15" y1="189.05" x2="60.15" y2="189.05" stroke="#000" stroke-width="0.8"/>
</g>
<g font-family="Liberation Sans, sans-serif"><text transform="translate(24.36,58.47) scale(0.950,1)" font-size="14.20" fill="#000" stroke="#000" stroke-width="0.2">1</text><text transform="translate(32.78,58.47) scale(0.995,1)" font-size="14.20" fill="#000" stroke="#000" stroke-width="0.2">0</text><text transform="translate(41.18,53.12) scale(0.959,1)" font-size="9.94" fill="#000" stroke="#000" stroke-width="0.2">2</text><text transform="translate(47.21,53.12) scale(0.973,1)" font-size="9.94" fill="#000" stroke="#000" stroke-width="0.2">7</text><text transform="translate(24.36,169.77) scale(0.950,1)" font-size="14.20" fill="#000" stroke="#000" stroke-width="0.2">1</text><text transform="translate(32.78,169.77) scale(0.995,1)" font-size="14.20" fill="#000" stroke="#000" stroke-width="0.2">0</text><text transform="translate(41.18,164.62) scale(0.959,1)" font-size="9.94" fill="#000" stroke="#000" stroke-width="0.2">2</text><text transform="translate(47.07,164.62) scale(1.030,1)" font-size="9.94" fill="#000" stroke="#000" stroke-width="0.2">6</text><text transform="translate(24.36,215.11) scale(0.950,1)" font-size="14.20" fill="#000" stroke="#000" stroke-width="0.2">1</text><text transform="translate(32.78,215.11) scale(0.995,1)" font-size="14.20" fill="#000" stroke="#000" stroke-width="0.2">0</text><text transform="translate(41.18,209.96) scale(0.959,1)" font-size="9.94" fill="#000" stroke="#000" stroke-width="0.2">2</text><text transform="translate(47.29,209.96) scale(0.939,1)" font-size="9.94" fill="#000" stroke="#000" stroke-width="0.2">5</text><text transform="translate(24.36,286.43) scale(0.950,1)" font-size="14.20" fill="#000" stroke="#000" stroke-width="0.2">1</text><text transform="translate(32.78,286.43) scale(0.995,1)" font-size="14.20" fill="#000" stroke="#000" stroke-width="0.2">0</text><text transform="translate(41.18,281.08) scale(0.959,1)" font-size="9.94" fill="#000" stroke="#000" stroke-width="0.2">2</text><text transform="translate(47.17,281.08) scale(0.995,1)" font-size="9.94" fill="#000" stroke="#000" stroke-width="0.2">4</text><text transform="translate(24.36,357.75) scale(0.950,1)" font-size="14.20" fill="#000" stroke="#000" stroke-width="0.2">1</text><text transform="translate(32.78,357.75) scale(0.995,1)" font-size="14.20" fill="#000" stroke="#000" stroke-width="0.2">0</text><text transform="translate(41.18,352.60) scale(0.959,1)" font-size="9.94" fill="#000" stroke="#000" stroke-width="0.2">2</text><text transform="translate(47.29,352.60) scale(0.955,1)" font-size="9.94" fill="#000" stroke="#000" stroke-width="0.2">3</text><text transform="translate(54.47,369.60) scale(1.216,1)" font-size="14.20" fill="#000" stroke="#000" stroke-width="0.2">−</text><text transform="translate(65.42,369.60) scale(1.006,1)" font-size="14.20" fill="#000" stroke="#000" stroke-width="0.2">8</text><text transform="translate(73.99,369.60) scale(0.995,1)" font-size="14.20" fill="#000" stroke="#000" stroke-width="0.2">0</text><text transform="translate(106.69,369.60) scale(1.216,1)" font-size="14.20" fill="#000" stroke="#000" stroke-width="0.2">−</text><text transform="translate(117.54,369.60) scale(1.030,1)" font-size="14.20" fill="#000" stroke="#000" stroke-width="0.2">6</text><text transform="translate(126.20,369.60) scale(0.995,1)" font-size="14.20" fill="#000" stroke="#000" stroke-width="0.2">0</text><text transform="translate(158.90,369.60) scale(1.216,1)" font-size="14.20" fill="#000" stroke="#000" stroke-width="0.2">−</text><text transform="translate(169.89,369.60) scale(0.995,1)" font-size="14.20" fill="#000" stroke="#000" stroke-width="0.2">4</text><text transform="translate(178.42,369.60) scale(0.995,1)" font-size="14.20" fill="#000" stroke="#000" stroke-width="0.2">0</text><text transform="translate(211.12,369.60) scale(1.216,1)" font-size="14.20" fill="#000" stroke="#000" stroke-width="0.2">−</text><text transform="translate(222.07,369.60) scale(0.959,1)" font-size="14.20" fill="#000" stroke="#000" stroke-width="0.2">2</text><text transform="translate(230.63,369.60) scale(0.995,1)" font-size="14.20" fill="#000" stroke="#000" stroke-width="0.2">0</text><text transform="translate(272.97,369.60) scale(0.995,1)" font-size="14.20" fill="#000" stroke="#000" stroke-width="0.2">0</text><text transform="translate(320.89,369.60) scale(0.959,1)" font-size="14.20" fill="#000" stroke="#000" stroke-width="0.2">2</text><text transform="translate(329.45,369.60) scale(0.995,1)" font-size="14.20" fill="#000" stroke="#000" stroke-width="0.2">0</text><text transform="translate(373.13,369.60) scale(0.995,1)" font-size="14.20" fill="#000" stroke="#000" stroke-width="0.2">4</text><text transform="translate(381.66,369.60) scale(0.995,1)" font-size="14.20" fill="#000" stroke="#000" stroke-width="0.2">0</text><text transform="translate(425.21,369.60) scale(1.030,1)" font-size="14.20" fill="#000" stroke="#000" stroke-width="0.2">6</text><text transform="translate(433.87,369.60) scale(0.995,1)" font-size="14.20" fill="#000" stroke="#000" stroke-width="0.2">0</text><text transform="translate(138.95,387.50) scale(1.029,1)" font-size="16.15" fill="#000" stroke="#000" stroke-width="0.2">T</text><text transform="translate(149.07,387.50) scale(0.965,1)" font-size="16.15" fill="#000" stroke="#000" stroke-width="0.2">i</text><text transform="translate(153.14,387.50) scale(1.075,1)" font-size="16.15" fill="#000" stroke="#000" stroke-width="0.2">m</text><text transform="translate(167.90,387.50) scale(1.019,1)" font-size="16.15" fill="#000" stroke="#000" stroke-width="0.2">e</text><text transform="translate(182.07,387.50) scale(1.209,1)" font-size="16.15" fill="#000" stroke="#000" stroke-width="0.2">r</text><text transform="translate(188.39,387.50) scale(1.019,1)" font-size="16.15" fill="#000" stroke="#000" stroke-width="0.2">e</text><text transform="translate(198.01,387.50) scale(0.965,1)" font-size="16.15" fill="#000" stroke="#000" stroke-width="0.2">l</text><text transform="translate(202.19,387.50) scale(0.849,1)" font-size="16.15" fill="#000" stroke="#000" stroke-width="0.2">a</text><text transform="translate(211.29,387.50) scale(1.261,1)" font-size="16.15" fill="#000" stroke="#000" stroke-width="0.2">t</text><text transform="translate(217.56,387.50) scale(0.965,1)" font-size="16.15" fill="#000" stroke="#000" stroke-width="0.2">i</text><text transform="translate(221.80,387.50) scale(1.019,1)" font-size="16.15" fill="#000" stroke="#000" stroke-width="0.2">v</text><text transform="translate(230.56,387.50) scale(1.019,1)" font-size="16.15" fill="#000" stroke="#000" stroke-width="0.2">e</text><text transform="translate(244.74,387.50) scale(1.261,1)" font-size="16.15" fill="#000" stroke="#000" stroke-width="0.2">t</text><text transform="translate(250.78,387.50) scale(1.003,1)" font-size="16.15" fill="#000" stroke="#000" stroke-width="0.2">o</text><text transform="translate(265.10,387.50) scale(1.027,1)" font-size="16.15" fill="#000" stroke="#000" stroke-width="0.2">p</text><text transform="translate(274.60,387.50) scale(1.019,1)" font-size="16.15" fill="#000" stroke="#000" stroke-width="0.2">e</text><text transform="translate(283.92,387.50) scale(1.209,1)" font-size="16.15" fill="#000" stroke="#000" stroke-width="0.2">r</text><text transform="translate(290.50,387.50) scale(0.965,1)" font-size="16.15" fill="#000" stroke="#000" stroke-width="0.2">i</text><text transform="translate(294.57,387.50) scale(1.025,1)" font-size="16.15" fill="#000" stroke="#000" stroke-width="0.2">h</text><text transform="translate(304.14,387.50) scale(1.019,1)" font-size="16.15" fill="#000" stroke="#000" stroke-width="0.2">e</text><text transform="translate(313.76,387.50) scale(0.965,1)" font-size="16.15" fill="#000" stroke="#000" stroke-width="0.2">l</text><text transform="translate(318.00,387.50) scale(0.965,1)" font-size="16.15" fill="#000" stroke="#000" stroke-width="0.2">i</text><text transform="translate(322.00,387.50) scale(1.003,1)" font-size="16.15" fill="#000" stroke="#000" stroke-width="0.2">o</text><text transform="translate(331.46,387.50) scale(1.018,1)" font-size="16.15" fill="#000" stroke="#000" stroke-width="0.2">n</text><text transform="translate(346.17,387.50) scale(0.800,1)" font-size="16.15" fill="#000" stroke="#000" stroke-width="0.2">(</text><text transform="translate(351.76,387.50) scale(1.026,1)" font-size="16.15" fill="#000" stroke="#000" stroke-width="0.2">d</text><text transform="translate(361.62,387.50) scale(0.849,1)" font-size="16.15" fill="#000" stroke="#000" stroke-width="0.2">a</text><text transform="translate(371.04,387.50) scale(1.013,1)" font-size="16.15" fill="#000" stroke="#000" stroke-width="0.2">y</text><text transform="translate(380.06,387.50) scale(0.905,1)" font-size="16.15" fill="#000" stroke="#000" stroke-width="0.2">s</text><text transform="translate(388.72,387.50) scale(0.800,1)" font-size="16.15" fill="#000" stroke="#000" stroke-width="0.2">)</text><text transform="translate(17.00,166.82) rotate(-90) translate(0.34,0) scale(0.835,1)" font-size="14.20" stroke="#000" stroke-width="0.2">P</text><text transform="translate(17.00,166.82) rotate(-90) translate(8.16,0) scale(1.209,1)" font-size="14.20" stroke="#000" stroke-width="0.2">r</text><text transform="translate(17.00,166.82) rotate(-90) translate(13.73,0) scale(1.003,1)" font-size="14.20" stroke="#000" stroke-width="0.2">o</text><text transform="translate(17.00,166.82) rotate(-90) translate(21.92,0) scale(1.026,1)" font-size="14.20" stroke="#000" stroke-width="0.2">d</text><text transform="translate(17.00,166.82) rotate(-90) translate(30.49,0) scale(1.018,1)" font-size="14.20" stroke="#000" stroke-width="0.2">u</text><text transform="translate(17.00,166.82) rotate(-90) translate(38.95,0) scale(0.947,1)" font-size="14.20" stroke="#000" stroke-width="0.2">c</text><text transform="translate(17.00,166.82) rotate(-90) translate(46.24,0) scale(1.261,1)" font-size="14.20" stroke="#000" stroke-width="0.2">t</text><text transform="translate(17.00,166.82) rotate(-90) translate(51.75,0) scale(0.965,1)" font-size="14.20" stroke="#000" stroke-width="0.2">i</text><text transform="translate(17.00,166.82) rotate(-90) translate(55.27,0) scale(1.003,1)" font-size="14.20" stroke="#000" stroke-width="0.2">o</text><text transform="translate(17.00,166.82) rotate(-90) translate(63.59,0) scale(1.018,1)" font-size="14.20" stroke="#000" stroke-width="0.2">n</text><text transform="translate(17.00,166.82) rotate(-90) translate(76.16,0) scale(1.209,1)" font-size="14.20" stroke="#000" stroke-width="0.2">r</text><text transform="translate(17.00,166.82) rotate(-90) translate(81.88,0) scale(0.849,1)" font-size="14.20" stroke="#000" stroke-width="0.2">a</text><text transform="translate(17.00,166.82) rotate(-90) translate(89.89,0) scale(1.261,1)" font-size="14.20" stroke="#000" stroke-width="0.2">t</text><text transform="translate(17.00,166.82) rotate(-90) translate(95.18,0) scale(1.019,1)" font-size="14.20" stroke="#000" stroke-width="0.2">e</text><text transform="translate(17.00,166.82) rotate(-90) translate(108.00,0) scale(0.800,1)" font-size="14.20" stroke="#000" stroke-width="0.2">(</text><text transform="translate(17.00,166.82) rotate(-90) translate(112.99,0) scale(1.075,1)" font-size="14.20" stroke="#000" stroke-width="0.2">m</text><text transform="translate(17.00,166.82) rotate(-90) translate(125.98,0) scale(1.003,1)" font-size="14.20" stroke="#000" stroke-width="0.2">o</text><text transform="translate(17.00,166.82) rotate(-90) translate(134.38,0) scale(0.965,1)" font-size="14.20" stroke="#000" stroke-width="0.2">l</text><text transform="translate(17.00,166.82) rotate(-90) translate(142.39,0) scale(0.905,1)" font-size="14.20" stroke="#000" stroke-width="0.2">s</text><text transform="translate(12.10,17.81) rotate(-90) translate(0.40,0) scale(1.216,1)" font-size="9.94" stroke="#000" stroke-width="0.2">−</text><text transform="translate(12.10,17.81) rotate(-90) translate(8.17,0) scale(0.950,1)" font-size="9.94" stroke="#000" stroke-width="0.2">1</text><text transform="translate(17.00,3.98) rotate(-90) translate(1.00,0) scale(0.800,1)" font-size="14.20" stroke="#000" stroke-width="0.2">)</text><text transform="translate(17.00,354.72) rotate(-90) translate(0.34,0) scale(0.835,1)" font-size="14.20" stroke="#000" stroke-width="0.2">P</text><text transform="translate(17.00,354.72) rotate(-90) translate(8.16,0) scale(1.209,1)" font-size="14.20" stroke="#000" stroke-width="0.2">r</text><text transform="translate(17.00,354.72) rotate(-90) translate(13.73,0) scale(1.003,1)" font-size="14.20" stroke="#000" stroke-width="0.2">o</text><text transform="translate(17.00,354.72) rotate(-90) translate(21.92,0) scale(1.026,1)" font-size="14.20" stroke="#000" stroke-width="0.2">d</text><text transform="translate(17.00,354.72) rotate(-90) translate(30.49,0) scale(1.018,1)" font-size="14.20" stroke="#000" stroke-width="0.2">u</text><text transform="translate(17.00,354.72) rotate(-90) translate(38.95,0) scale(0.947,1)" font-size="14.20" stroke="#000" stroke-width="0.2">c</text><text transform="translate(17.00,354.72) rotate(-90) translate(46.24,0) scale(1.261,1)" font-size="14.20" stroke="#000" stroke-width="0.2">t</text><text transform="translate(17.00,354.72) rotate(-90) translate(51.75,0) scale(0.965,1)" font-size="14.20" stroke="#000" stroke-width="0.2">i</text><text transform="translate(17.00,354.72) rotate(-90) translate(55.27,0) scale(1.003,1)" font-size="14.20" stroke="#000" stroke-width="0.2">o</text><text transform="translate(17.00,354.72) rotate(-90) translate(63.59,0) scale(1.018,1)" font-size="14.20" stroke="#000" stroke-width="0.2">n</text><text transform="translate(17.00,354.72) rotate(-90) translate(76.16,0) scale(1.209,1)" font-size="14.20" stroke="#000" stroke-width="0.2">r</text><text transform="translate(17.00,354.72) rotate(-90) translate(81.88,0) scale(0.849,1)" font-size="14.20" stroke="#000" stroke-width="0.2">a</text><text transform="translate(17.00,354.72) rotate(-90) translate(89.89,0) scale(1.261,1)" font-size="14.20" stroke="#000" stroke-width="0.2">t</text><text transform="translate(17.00,354.72) rotate(-90) translate(95.18,0) scale(1.019,1)" font-size="14.20" stroke="#000" stroke-width="0.2">e</text><text transform="translate(17.00,354.72) rotate(-90) translate(108.00,0) scale(0.800,1)" font-size="14.20" stroke="#000" stroke-width="0.2">(</text><text transform="translate(17.00,354.72) rotate(-90) translate(112.99,0) scale(1.075,1)" font-size="14.20" stroke="#000" stroke-width="0.2">m</text><text transform="translate(17.00,354.72) rotate(-90) translate(125.98,0) scale(1.003,1)" font-size="14.20" stroke="#000" stroke-width="0.2">o</text><text transform="translate(17.00,354.72) rotate(-90) translate(134.38,0) scale(0.965,1)" font-size="14.20" stroke="#000" stroke-width="0.2">l</text><text transform="translate(17.00,354.72) rotate(-90) translate(142.39,0) scale(0.905,1)" font-size="14.20" stroke="#000" stroke-width="0.2">s</text><text transform="translate(12.10,205.71) rotate(-90) translate(0.40,0) scale(1.216,1)" font-size="9.94" stroke="#000" stroke-width="0.2">−</text><text transform="translate(12.10,205.71) rotate(-90) translate(8.17,0) scale(0.950,1)" font-size="9.94" stroke="#000" stroke-width="0.2">1</text><text transform="translate(17.00,191.88) rotate(-90) translate(1.00,0) scale(0.800,1)" font-size="14.20" stroke="#000" stroke-width="0.2">)</text></g>
<g><rect x="384.8" y="7.5" width="81.39999999999998" height="55.5" rx="3" ry="3" fill="#fff" fill-opacity="0.8" stroke="#d6d6d6" stroke-width="1.1"/><circle cx="396.60" cy="19.90" r="4.85" fill="none" stroke="#0000ff" stroke-width="1.0"/><rect x="391.75" y="30.45" width="9.70" height="9.70" fill="none" stroke="#ff0000" stroke-width="1.0"/><path d="M396.50,44.65L403.15,51.30L396.50,57.95L389.85,51.30Z" fill="none" stroke="#008000" stroke-width="1.0" stroke-linejoin="miter"/><rect x="401.9" y="195.6" width="64.30000000000001" height="102.6" rx="3" ry="3" fill="#fff" fill-opacity="0.8" stroke="#d6d6d6" stroke-width="1.1"/><circle cx="414.00" cy="207.30" r="4.85" fill="none" stroke="#bfbf00" stroke-width="1.0"/><path d="M411.60,217.80L414.20,220.40L416.80,217.80L419.40,220.40L416.80,223.00L419.40,225.60L416.80,228.20L414.20,225.60L411.60,228.20L409.00,225.60L411.60,223.00L409.00,220.40Z" fill="none" stroke="#0000ff" stroke-width="1.0" stroke-linejoin="miter"/><path d="M414.00,232.55L420.65,239.20L414.00,245.85L407.35,239.20Z" fill="none" stroke="#ff0000" stroke-width="1.0" stroke-linejoin="miter"/><path d="M414.10,250.35L412.99,253.77L409.39,253.77L412.30,255.88L411.19,259.30L414.10,257.19L417.01,259.30L415.90,255.88L418.81,253.77L415.21,253.77Z" fill="none" stroke="#008000" stroke-width="1.0" stroke-linejoin="bevel"/><rect x="409.15" y="265.75" width="9.70" height="9.70" fill="none" stroke="#000000" stroke-width="1.0"/><path d="M412.58,281.65L415.82,281.65L415.82,284.88L419.05,284.88L419.05,288.12L415.82,288.12L415.82,291.35L412.58,291.35L412.58,288.12L409.35,288.12L409.35,284.88L412.58,284.88Z" fill="none" stroke="#bf00bf" stroke-width="1.0" stroke-linejoin="miter"/></g>
<g font-family="Liberation Sans, sans-serif"><text transform="translate(414.17,22.70) scale(0.939,1)" font-size="14.20" fill="#000" stroke="#000" stroke-width="0.2">H</text><text transform="translate(424.23,25.00) scale(0.959,1)" font-size="9.94" fill="#000" stroke="#000" stroke-width="0.2">2</text><text transform="translate(430.12,22.70) scale(0.933,1)" font-size="14.20" fill="#000" stroke="#000" stroke-width="0.2">O</text><text transform="translate(414.07,38.90) scale(0.876,1)" font-size="14.20" fill="#000" stroke="#000" stroke-width="0.2">C</text><text transform="translate(423.43,38.90) scale(0.933,1)" font-size="14.20" fill="#000" stroke="#000" stroke-width="0.2">O</text><text transform="translate(414.07,54.30) scale(0.876,1)" font-size="14.20" fill="#000" stroke="#000" stroke-width="0.2">C</text><text transform="translate(423.53,54.30) scale(0.939,1)" font-size="14.20" fill="#000" stroke="#000" stroke-width="0.2">H</text><text transform="translate(433.74,56.60) scale(0.955,1)" font-size="9.94" fill="#000" stroke="#000" stroke-width="0.2">3</text><text transform="translate(439.48,54.30) scale(0.933,1)" font-size="14.20" fill="#000" stroke="#000" stroke-width="0.2">O</text><text transform="translate(450.12,54.30) scale(0.939,1)" font-size="14.20" fill="#000" stroke="#000" stroke-width="0.2">H</text><text transform="translate(431.17,210.50) scale(0.876,1)" font-size="14.20" fill="#000" stroke="#000" stroke-width="0.2">C</text><text transform="translate(440.75,210.50) scale(0.841,1)" font-size="14.20" fill="#000" stroke="#000" stroke-width="0.2">S</text><text transform="translate(431.17,225.80) scale(0.876,1)" font-size="14.20" fill="#000" stroke="#000" stroke-width="0.2">C</text><text transform="translate(440.64,225.80) scale(0.932,1)" font-size="14.20" fill="#000" stroke="#000" stroke-width="0.2">N</text><text transform="translate(431.17,242.00) scale(0.876,1)" font-size="14.20" fill="#000" stroke="#000" stroke-width="0.2">C</text><text transform="translate(440.61,244.30) scale(0.959,1)" font-size="9.94" fill="#000" stroke="#000" stroke-width="0.2">2</text><text transform="translate(431.17,258.10) scale(0.876,1)" font-size="14.20" fill="#000" stroke="#000" stroke-width="0.2">C</text><text transform="translate(440.76,260.40) scale(0.955,1)" font-size="9.94" fill="#000" stroke="#000" stroke-width="0.2">3</text><text transform="translate(431.27,274.10) scale(0.939,1)" font-size="14.20" fill="#000" stroke="#000" stroke-width="0.2">H</text><text transform="translate(441.25,274.10) scale(0.876,1)" font-size="14.20" fill="#000" stroke="#000" stroke-width="0.2">C</text><text transform="translate(450.71,274.10) scale(0.932,1)" font-size="14.20" fill="#000" stroke="#000" stroke-width="0.2">N</text><text transform="translate(431.28,288.90) scale(0.932,1)" font-size="14.20" fill="#000" stroke="#000" stroke-width="0.2">N</text><text transform="translate(441.30,288.90) scale(0.939,1)" font-size="14.20" fill="#000" stroke="#000" stroke-width="0.2">H</text><text transform="translate(451.36,291.20) scale(0.959,1)" font-size="9.94" fill="#000" stroke="#000" stroke-width="0.2">2</text></g>
</svg></body></html>
